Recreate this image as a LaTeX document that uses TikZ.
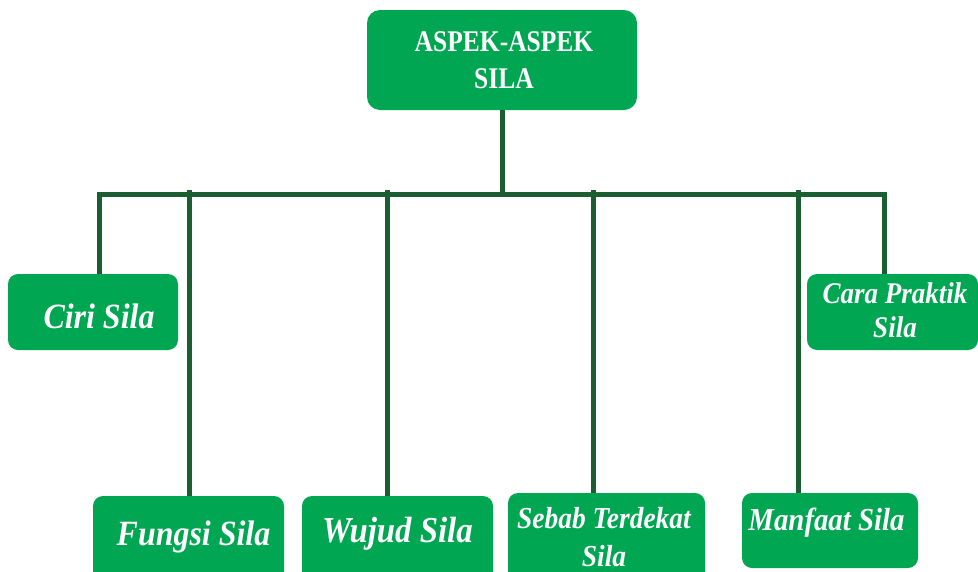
\documentclass[tikz,border=0pt]{standalone}
\usepackage{fontspec}
\setmainfont{Liberation Serif}
\newfontfamily\lblfont[FakeStretch=0.9]{Liberation Serif}
\newfontfamily\ttlfont[FakeStretch=0.85]{Liberation Serif}
\definecolor{boxgreen}{RGB}{0,166,81}
\definecolor{linegreen}{RGB}{27,94,50}
\begin{document}
\begin{tikzpicture}[x=1pt,y=-1pt,
  box/.style={fill=boxgreen, draw=none, rounded corners=10pt, inner sep=0pt, outer sep=0pt},
  lbl/.style={text=white, inner sep=0pt, align=center},
  conn/.style={draw=linegreen, line width=5pt}]
\useasboundingbox (0,0) rectangle (978,571);
\clip (0,0) rectangle (978,571);
% boxes
\node[box, rounded corners=13pt, minimum width=270pt, minimum height=100pt] (top) at (502,60) {};
\node[box, minimum width=170pt, minimum height=76pt] (ciri) at (93,312) {};
\node[box, minimum width=171pt, minimum height=76pt] (cara) at (892.5,312) {};
\node[box, minimum width=191pt, minimum height=100pt] (fungsi) at (188.5,546) {};
\node[box, minimum width=191pt, minimum height=100pt] (wujud) at (397.5,546) {};
\node[box, minimum width=197pt, minimum height=100pt] (sebab) at (606.5,543) {};
\node[box, minimum width=176pt, minimum height=75pt] (manfaat) at (830,530.5) {};
% texts
\node[lbl, font=\ttlfont\bfseries\fontsize{30}{37}\selectfont] (ttop) at (504,60.5) {ASPEK-ASPEK\\SILA};
\node[lbl, font=\lblfont\bfseries\itshape\fontsize{35.5}{37}\selectfont, anchor=base] (tciri) at (99,328) {Ciri Sila};
\node[lbl, font=\lblfont\bfseries\itshape\fontsize{30}{34}\selectfont] (tcara) at (895,309.8) {Cara Praktik\\Sila};
\node[lbl, font=\lblfont\bfseries\itshape\fontsize{35.5}{37}\selectfont, anchor=base] (tfungsi) at (193.5,545) {Fungsi Sila};
\node[lbl, font=\lblfont\bfseries\itshape\fontsize{36.5}{37}\selectfont, anchor=base] (twujud) at (397.5,542) {Wujud Sila};
\node[lbl, font=\lblfont\bfseries\itshape\fontsize{30.5}{38}\selectfont] (tsebab) at (604,536.8) {Sebab Terdekat\\Sila};
\node[lbl, font=\lblfont\bfseries\itshape\fontsize{32}{37}\selectfont, anchor=base] (tmanfaat) at (826.5,530) {Manfaat Sila};
% bus joints
\coordinate (jl) at (99,194);
\coordinate (jr) at (884.5,194);
\coordinate (jf) at (189.5,190);
\coordinate (jw) at (387,190);
\coordinate (js) at (593,190);
\coordinate (jm) at (798.5,190);
% connectors
\draw[conn] (top.south) -- (top.south |- jl);
\draw[conn] (jl |- ciri.north) -- (jl) -- (jr) -- (jr |- cara.north);
\draw[conn] (jf) -- (jf |- fungsi.north);
\draw[conn] (jw) -- (jw |- wujud.north);
\draw[conn] (js) -- (js |- sebab.north);
\draw[conn] (jm) -- (jm |- manfaat.north);
\end{tikzpicture}
\end{document}
